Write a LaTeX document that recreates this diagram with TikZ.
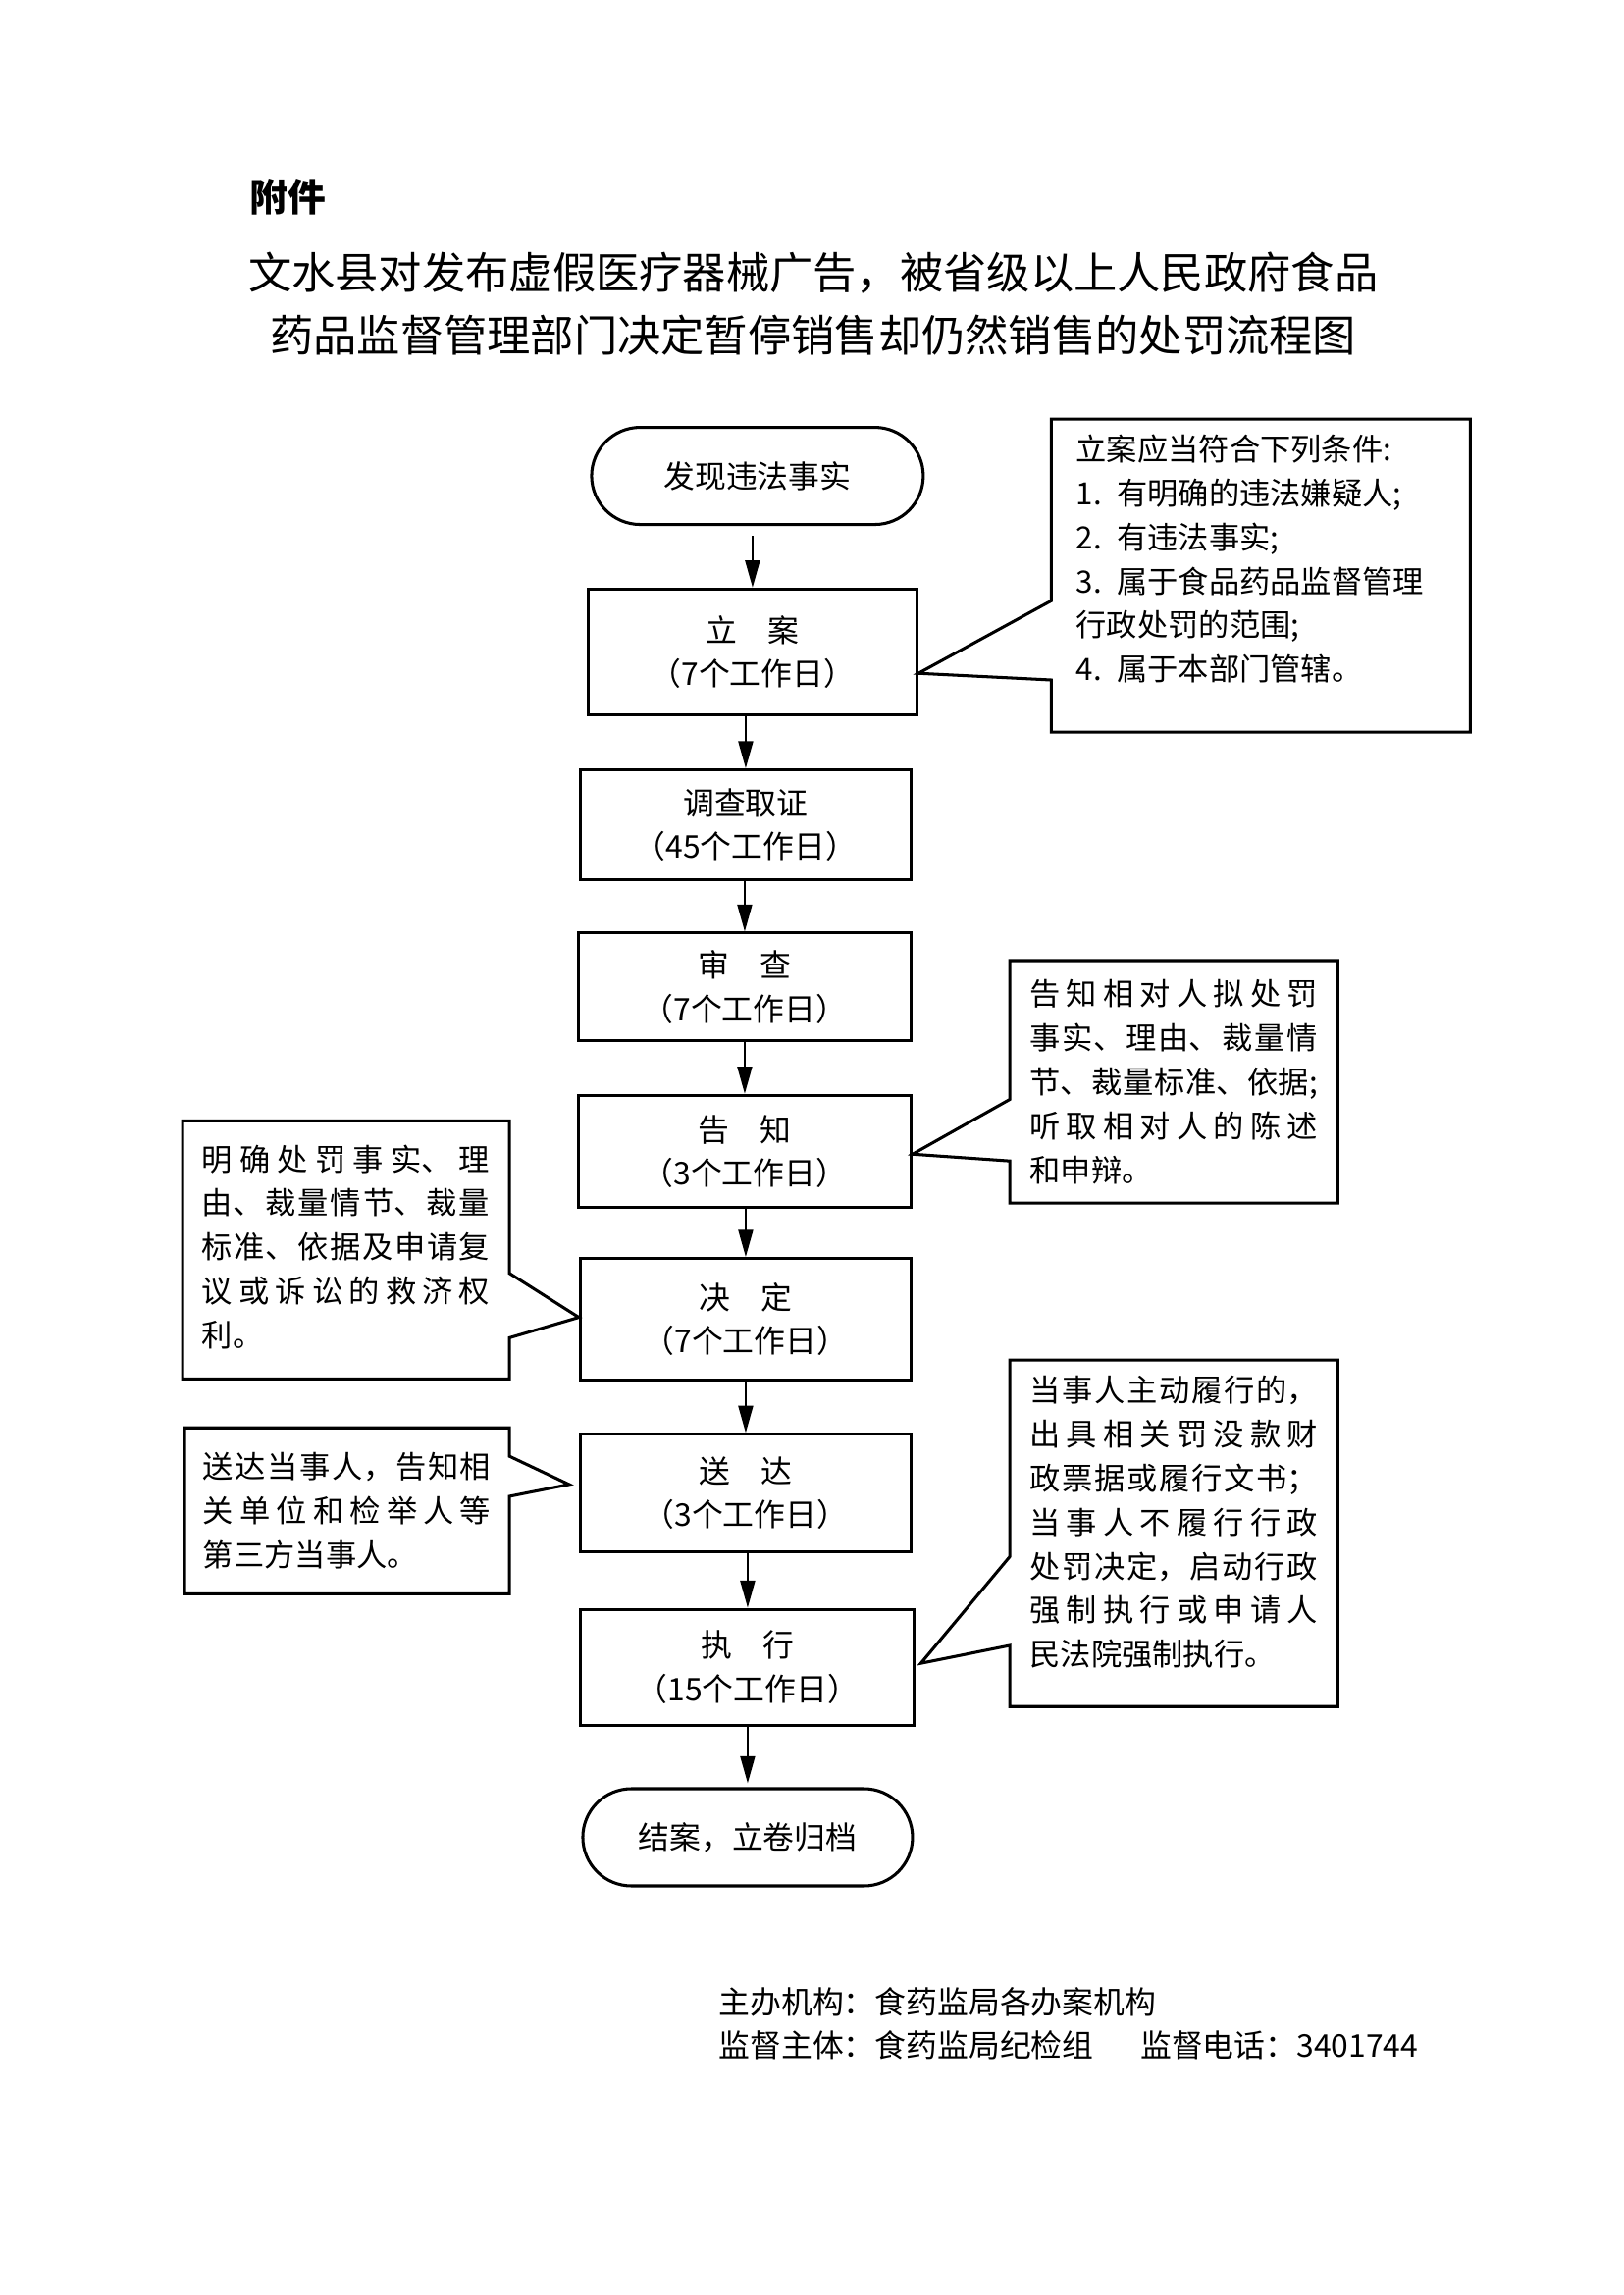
\documentclass[tikz,border=0pt]{standalone}
\usepackage{fontspec}
\setmainfont{Noto Sans CJK SC}
\usepackage{tikz}
\usetikzlibrary{arrows.meta,shapes.misc,calc}
\newdimen\pxu \pxu=0.127mm
\XeTeXlinebreaklocale "zh"
\XeTeXlinebreakskip=0pt plus 4pt

\begin{document}
\begin{tikzpicture}[x=0.127mm, y=-0.127mm,
    every node/.style={inner sep=0pt},
    stepbox/.style={draw, line width=1.1pt, align=center, font=\fontsize{11.5}{16}\selectfont},
    endbox/.style={stepbox, rounded rectangle},
    notebox/.style={align=justify, text width=106pt, font=\fontsize{11.3}{16.2}\selectfont},
    notepath/.style={line width=1.1pt},
    flow/.style={line width=0.8pt, -{Triangle[length=10pt,width=5.4pt]}}]
    \useasboundingbox (0,0) rectangle (1654,2339);

    \begin{scope}[scale=0.996]
    \node [anchor=west, font=\fontsize{14}{16}\selectfont\bfseries] (fujian) at (255,202) {附件};
    \node [font=\fontsize{16}{20}\selectfont] (title1) at (832,279) {文水县对发布虚假医疗器械广告，被省级以上人民政府食品};
    \node [font=\fontsize{16}{20}\selectfont] (title2) at (832,343) {药品监督管理部门决定暂停销售却仍然销售的处罚流程图};

    \node [endbox, minimum width=338\pxu, minimum height=99\pxu] (faxian) at (775,487) {发现违法事实};
    \node [stepbox, minimum width=335\pxu, minimum height=128\pxu] (lian) at (770,667) {立\quad 案\\（7个工作日）};
    \node [stepbox, minimum width=337\pxu, minimum height=112\pxu] (diaocha) at (763,844) {调查取证\\（45个工作日）};
    \node [stepbox, minimum width=339\pxu, minimum height=110\pxu] (shencha) at (762,1010) {审\quad 查\\（7个工作日）};
    \node [stepbox, minimum width=339\pxu, minimum height=114\pxu] (gaozhi) at (762,1178) {告\quad 知\\（3个工作日）};
    \node [stepbox, minimum width=337\pxu, minimum height=124\pxu] (jueding) at (763,1350) {决\quad 定\\（7个工作日）};
    \node [stepbox, minimum width=337\pxu, minimum height=120\pxu] (songda) at (763,1528) {送\quad 达\\（3个工作日）};
    \node [stepbox, minimum width=340\pxu, minimum height=118\pxu] (zhixing) at (765,1706) {执\quad 行\\（15个工作日）};
    \node [endbox, minimum width=336\pxu, minimum height=99\pxu] (jiean) at (765,1880) {结案，立卷归档};

    \draw [flow, shorten <=10\pxu] (lian.north |- faxian.south) -- (lian.north);
    \draw [flow] (diaocha.north |- lian.south) -- (diaocha.north);
    \draw [flow] (shencha.north |- diaocha.south) -- (shencha.north);
    \draw [flow] (gaozhi.north |- shencha.south) -- (gaozhi.north);
    \draw [flow] (jueding.north |- gaozhi.south) -- (jueding.north);
    \draw [flow] (songda.north |- jueding.south) -- (songda.north);
    \draw [flow] (zhixing.north |- songda.south) -- (zhixing.north);
    \draw [flow, shorten >=4\pxu] (jiean.north |- zhixing.south) -- (jiean.north);

    \node [notebox, align=left, text width=136pt, minimum width=426\pxu, minimum height=318\pxu] (tiaojian) at (1290,589)
        {立案应当符合下列条件:\\1. 有明确的违法嫌疑人;\\2. 有违法事实;\\3. 属于食品药品监督管理\\行政处罚的范围;\\4. 属于本部门管辖。\\[-3pt]\mbox{}};
    \draw [notepath] (tiaojian.north west) -- (tiaojian.north east) -- (tiaojian.south east) -- (tiaojian.south west)
        -- ($(tiaojian.north west)+(0,267)$) -- ($(lian.east)+(0,22)$) -- ($(tiaojian.north west)+(0,186)$) -- cycle;

    \node [notebox, minimum width=333\pxu, minimum height=246\pxu] (gaozhinote) at (1201,1107)
        {告知相对人拟处罚\linebreak 事实、理由、裁量情\linebreak 节、裁量标准、依据;\linebreak 听取相对人的陈述\linebreak 和申辩。};
    \draw [notepath] (gaozhinote.north west) -- (gaozhinote.north east) -- (gaozhinote.south east) -- (gaozhinote.south west)
        -- ($(gaozhinote.north west)+(0,205)$) -- ($(gaozhi.east)+(0,3)$) -- ($(gaozhinote.north west)+(0,142)$) -- cycle;

    \node [notebox, minimum width=332\pxu, minimum height=262\pxu] (juedingnote) at (354,1279)
        {明确处罚事实、理\linebreak 由、裁量情节、裁量\linebreak 标准、依据及申请复\linebreak 议或诉讼的救济权\linebreak 利。\\[-13pt]\mbox{}};
    \draw [notepath] (juedingnote.north west) -- (juedingnote.north east) -- ($(juedingnote.north east)+(0,156)$)
        -- ($(jueding.west)+(0,-2)$) -- ($(juedingnote.north east)+(0,222)$) -- (juedingnote.south east) -- (juedingnote.south west) -- cycle;

    \node [notebox, minimum width=330\pxu, minimum height=168\pxu] (songdanote) at (355,1546)
        {送达当事人，告知相\linebreak 关单位和检举人等\linebreak 第三方当事人。};
    \draw [notepath] (songdanote.north west) -- (songdanote.north east) -- ($(songdanote.north east)+(0,29)$)
        -- ($(songda.west)+(-10,-9)$) -- ($(songdanote.north east)+(0,70)$) -- (songdanote.south east) -- (songdanote.south west) -- cycle;

    \node [notebox, minimum width=333\pxu, minimum height=352\pxu] (zhixingnote) at (1201,1569)
        {当事人主动履行的，\linebreak 出具相关罚没款财\linebreak 政票据或履行文书；\linebreak 当事人不履行行政\linebreak 处罚决定，启动行政\linebreak 强制执行或申请人\linebreak 民法院强制执行。\\[-7pt]\mbox{}};
    \draw [notepath] (zhixingnote.north west) -- (zhixingnote.north east) -- (zhixingnote.south east) -- (zhixingnote.south west)
        -- ($(zhixingnote.north west)+(0,292)$) -- ($(zhixing.east)+(5,-4)$) -- ($(zhixingnote.north west)+(0,201)$) -- cycle;

    \node [anchor=west, font=\fontsize{11.5}{14}\selectfont] (zhuban) at (735,2049) {主办机构：食药监局各办案机构};
    \node [anchor=west, font=\fontsize{11.5}{14}\selectfont] (jiandu) at (735,2093) {监督主体：食药监局纪检组\hspace{1.5em}监督电话：3401744};
    \end{scope}
\end{tikzpicture}
\end{document}
